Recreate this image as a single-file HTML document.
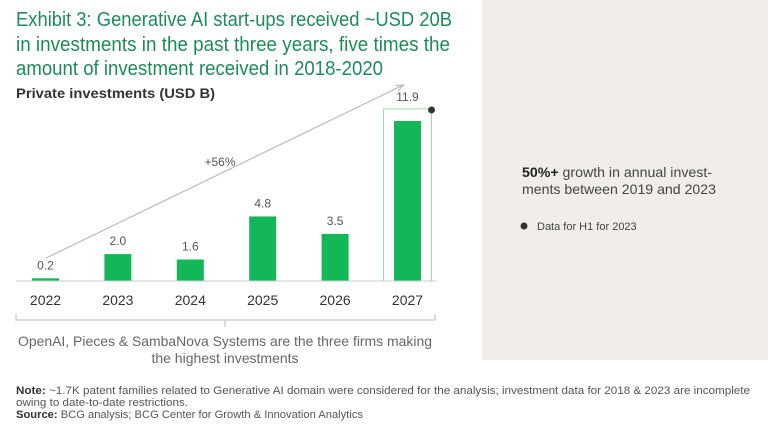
<!DOCTYPE html>
<html><head><meta charset="utf-8"><style>
html,body{margin:0;padding:0;background:#fff;}
svg{display:block;font-family:"Liberation Sans",sans-serif;}
</style></head><body>
<svg id="chart" width="768" height="432" viewBox="0 0 768 432">
<rect x="482" y="0" width="286" height="360" fill="#f1eeea"/>
<g fill="#1f8a5c" font-size="20">
<text x="16" y="26" textLength="436" lengthAdjust="spacingAndGlyphs">Exhibit 3: Generative AI start-ups received ~USD 20B</text>
<text x="16" y="51" textLength="434" lengthAdjust="spacingAndGlyphs">in investments in the past three years, five times the</text>
<text x="16" y="75" textLength="367" lengthAdjust="spacingAndGlyphs">amount of investment received in 2018-2020</text>
</g>
<text x="16" y="98" font-size="14" font-weight="bold" fill="#333" textLength="199" lengthAdjust="spacingAndGlyphs">Private investments (USD B)</text>
<g id="plot"></g>
<line x1="16" y1="281" x2="436" y2="281" stroke="#ccc" stroke-width="1"/>
<path d="M16 314 V320 H435 V314 M225 320 V327" stroke="#bbb" fill="none"/>
<g fill="#666" font-size="14" text-anchor="middle">
<text x="225" y="346" textLength="414" lengthAdjust="spacingAndGlyphs">OpenAI, Pieces &amp; SambaNova Systems are the three firms making</text>
<text x="225" y="363">the highest investments</text>
</g>
<g>
<text x="522" y="177" font-size="14" fill="#444" textLength="190" lengthAdjust="spacingAndGlyphs"><tspan font-weight="bold" fill="#222">50%+</tspan> growth in annual invest-</text>
<text x="522" y="194" font-size="14" fill="#444" textLength="194" lengthAdjust="spacingAndGlyphs">ments between 2019 and 2023</text>
</g>
<circle cx="524" cy="226" r="3.5" fill="#333"/>
<text x="537" y="230" font-size="11" fill="#444">Data for H1 for 2023</text>
<g font-size="11" fill="#555">
<text x="16" y="394" textLength="734" lengthAdjust="spacingAndGlyphs"><tspan font-weight="bold" fill="#333">Note:</tspan> ~1.7K patent families related to Generative AI domain were considered for the analysis; investment data for 2018 &amp; 2023 are incomplete</text>
<text x="16" y="406" textLength="172" lengthAdjust="spacingAndGlyphs">owing to date-to-date restrictions.</text>
<text x="16" y="418" textLength="347" lengthAdjust="spacingAndGlyphs"><tspan font-weight="bold" fill="#333">Source:</tspan> BCG analysis; BCG Center for Growth &amp; Innovation Analytics</text>
</g>
</svg>
<script>
const categories=["2022","2023","2024","2025","2026","2027"];
const values=[0.2,2.0,1.6,4.8,3.5,11.9];
const valueLabels=["0.2","2.0","1.6","4.8","3.5","11.9"];
const growthLabel="+56%";
const NS="http://www.w3.org/2000/svg";
const g=document.getElementById('plot');
const base=281, pxPerUnit=13.45, x0=45.5, step=72.4, bw=27;
const xS=i=>x0+i*step, yS=v=>base-v*pxPerUnit;
function mk(t,a){const e=document.createElementNS(NS,t);for(const k in a)e.setAttribute(k,a[k]);g.appendChild(e);return e;}
const last=values.length-1;
const hl=mk('rect',{x:xS(last)-24,y:yS(values[last])-12,width:48,height:base-yS(values[last])+12,fill:'none',stroke:'#9ed9a8','stroke-width':1});


const dot=mk('circle',{cx:xS(last)+24,cy:yS(values[last])-11,r:3.5,fill:'#333'});


values.forEach((v,i)=>{
 const r=mk('rect',{x:xS(i)-bw/2,y:yS(v),width:bw,height:v*pxPerUnit,fill:'#13b757'});
 
 
 const t=mk('text',{x:xS(i),y:yS(v)-(i===last?20:9),'text-anchor':'middle','font-size':12,fill:'#555'});
 t.textContent=valueLabels[i];
 
 
 const c=mk('text',{x:xS(i),y:305,'text-anchor':'middle','font-size':14,fill:'#333'});
 c.textContent=categories[i];
 
 
});
const ax1=xS(0), ay1=yS(values[0])-20, ax2=xS(last)-4, ay2=yS(values[last])-36;
const ar=mk('line',{x1:ax1,y1:ay1,x2:ax2,y2:ay2,stroke:'#bbb','stroke-width':1.2});


const ang=Math.atan2(ay2-ay1,ax2-ax1);
const ah=mk('path',{d:`M${ax2-8*Math.cos(ang-0.4)} ${ay2-8*Math.sin(ang-0.4)} L${ax2} ${ay2} L${ax2-8*Math.cos(ang+0.4)} ${ay2-8*Math.sin(ang+0.4)}`,stroke:'#bbb',fill:'none','stroke-width':1.2});


const gl=mk('text',{x:220,y:166,'text-anchor':'middle','font-size':12,fill:'#555'});
gl.textContent=growthLabel;


</script>
</body></html>
